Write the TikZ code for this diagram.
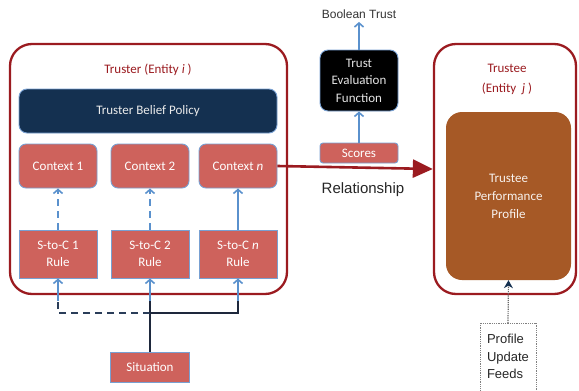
\documentclass[tikz,border=0pt]{standalone}
\usepackage{fontspec}
\setmainfont{Carlito}
\newfontfamily\arial{Liberation Sans}
\usetikzlibrary{arrows.meta}
\definecolor{frame}{RGB}{155,27,32}
\definecolor{salmon}{RGB}{206,98,92}
\definecolor{edgeblue}{RGB}{120,160,210}
\definecolor{navy}{RGB}{20,48,80}
\definecolor{brown}{RGB}{166,89,38}
\definecolor{arrblue}{RGB}{90,145,205}
\definecolor{darkline}{RGB}{30,40,60}
\tikzset{
  frm/.style={draw=frame, line width=2.3pt, rounded corners=22pt, fill=white},
  sbox/.style={draw=edgeblue, line width=0.9pt, fill=salmon, text=white, font=\fontsize{13}{17}\selectfont, align=center, inner sep=0pt},
  ctxbox/.style={sbox, rounded corners=7pt, minimum width=78pt, minimum height=44pt},
  rulebox/.style={sbox, minimum width=78pt, minimum height=48pt},
  barrow/.style={draw=arrblue, line width=1.6pt, -{Straight Barb[length=4pt,width=9pt,line width=1.6pt]}},
  dbarrow/.style={barrow, dash pattern=on 7pt off 5pt},
}
\begin{document}
\begin{tikzpicture}[x=1pt,y=-1pt]
\useasboundingbox (0,0) rectangle (579,391);
% frames
\node[frm, minimum width=277pt, minimum height=250pt] (truster) at (148.5,169) {};
\node[frm, minimum width=142pt, minimum height=250pt] (trustee) at (505,169) {};
\node[text=frame, font=\fontsize{13}{17}\selectfont] (tlabel) at (148,70) {Truster (Entity \textit{i} )};
\node[text=frame, font=\fontsize{13}{20}\selectfont, align=center] (telabel) at (507,79.5) {Trustee\\(Entity \ \textit{j} )};
% policy
\node[draw=edgeblue, line width=0.9pt, fill=navy, rounded corners=8pt, minimum width=258pt, minimum height=44pt, text=white!92!black, font=\fontsize{13}{17}\selectfont] (policy) at (148,111) {Truster Belief Policy};
% contexts
\node[ctxbox] (c1) at (58,166) {Context 1};
\node[ctxbox] (c2) at (150,166) {Context 2};
\node[ctxbox] (cn) at (238,166) {Context \textit{n}};
% rules
\node[rulebox] (r1) at (58,254) {S-to-C 1\\Rule};
\node[rulebox] (r2) at (150,254) {S-to-C 2\\Rule};
\node[rulebox] (rn) at (238,254) {S-to-C \textit{n}\\Rule};
% situation
\node[sbox, minimum width=79pt, minimum height=30pt] (sit) at (150,367) {Situation};
% scores and TEF
\node[sbox, rounded corners=3pt, minimum width=78pt, minimum height=20pt] (scores) at (359,153) {Scores};
\node[draw=edgeblue, line width=0.9pt, fill=black, rounded corners=8pt, minimum width=78pt, minimum height=61pt, text=white!90!black, font=\fontsize{13}{17.5}\selectfont, align=center, inner sep=0pt] (tef) at (359,80.5) {Trust\\Evaluation\\Function};
\node[text=black!80, font=\arial\fontsize{12}{14}\selectfont] (bool) at (359,14) {Boolean Trust};
% trustee profile
\node[fill=brown, rounded corners=16pt, minimum width=125pt, minimum height=168pt, text=white!92!brown, font=\fontsize{13}{18}\selectfont, align=center, inner sep=0pt] (perf) at (508.5,196) {Trustee\\Performance\\Profile};
% feeds
\node[draw=black!50, densely dotted, line width=0.8pt, minimum width=56pt, minimum height=72pt, anchor=north] (feeds) at (508,323) {};
\node[font=\arial\fontsize{13}{17.5}\selectfont, align=left, text=black!85] (feedstext) at (508,356.5) {Profile\\Update\\Feeds};
\node[font=\arial\fontsize{15}{18}\selectfont, text=black!85] (rel) at (363,190) {Relationship};
% coordinates for the situation network
\coordinate (j) at (150,313);
\coordinate (l) at (58,313);
\coordinate (rr) at (238,313);
\coordinate (a1) at (58,301);
\coordinate (a2) at (150,301);
\coordinate (an) at (238,301);
% connectors
\draw[darkline, line width=1.2pt] (sit.north) -- (j);
\draw[darkline!80!arrblue, line width=1.6pt, dash pattern=on 7pt off 5pt] (j) -- (l) -- (a1);
\draw[darkline, line width=1.2pt] (j) -- (rr) -- (an);
\draw[darkline, line width=1.2pt] (j) -- (a2);
\draw[barrow] (a1) -- (r1.south);
\draw[barrow] (a2) -- (r2.south);
\draw[barrow] (an) -- (rn.south);
\draw[dbarrow] (r1.north) -- (c1.south);
\draw[dbarrow] (r2.north) -- (c2.south);
\draw[barrow] (rn.north) -- (cn.south);
\draw[barrow] (scores.north) -- (tef.south);
\draw[barrow] (tef.north) -- (bool.south);
\draw[frame, line width=2.6pt, -{Triangle[length=20pt,width=18pt]}] (cn.east) -- (trustee.west);
\draw[black!60, densely dotted, line width=1.2pt, -{Stealth[length=8pt,width=9pt,color=navy]}] (feeds.north) -- (perf.south);
\end{tikzpicture}
\end{document}
